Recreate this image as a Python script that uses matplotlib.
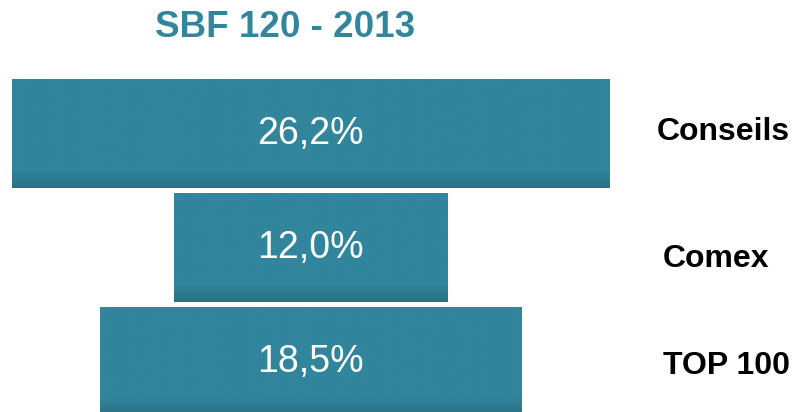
import numpy as np
import matplotlib.pyplot as plt
from matplotlib.colors import LinearSegmentedColormap

# data
categories = ['Conseils', 'Comex', 'TOP 100']
values = [26.2, 12.0, 18.5]
value_labels = ['26,2%', '12,0%', '18,5%']
title = 'SBF 120 - 2013'

bar_color = '#31859C'
dark_color = '#2B7184'

plt.rcParams['font.family'] = ['Liberation Sans', 'DejaVu Sans']

fig = plt.figure(figsize=(7.93, 4.12), dpi=100)
ax = fig.add_axes([0, 0, 1, 1])

# pixel-ish layout: bars centred at x=310px, 22.8px per %, 113px pitch
px_per_unit = 22.8
cx = 310.5
ax.set_xlim(-cx / px_per_unit, (793 - cx) / px_per_unit)
pitch = 114
cy = 133.5
ax.set_ylim((412 - cy) / pitch, -cy / pitch)
ax.axis('off')

ypos = np.arange(len(values))
bars = ax.barh(ypos, values, left=[-v / 2 for v in values], height=0.96,
               color=bar_color, edgecolor='none')

# darker gradient along the bottom of each bar
cmap = LinearSegmentedColormap.from_list('shade', [bar_color, bar_color, dark_color])
grad = np.linspace(0, 1, 200).reshape(-1, 1)
grad = np.clip((grad - 0.72) / 0.28, 0, 1) ** 0.8
for b in bars:
    x0, y0 = b.get_x(), b.get_y()
    w, h = b.get_width(), b.get_height()
    im = ax.imshow(grad, cmap=cmap, aspect='auto', vmin=0, vmax=1,
                   extent=[x0, x0 + w, y0 + h, y0], zorder=2)
    im.set_clip_path(b)

for i, lab in enumerate(value_labels):
    ax.text(0, i + 0.005, lab, ha='center', va='center', color='white',
            fontsize=27, zorder=3)

label_x = [0.828, 0.836, 0.836]
label_dy = [-0.01, 0.1, 0.04]
for i, cat in enumerate(categories):
    ax.text(label_x[i], i + label_dy[i], cat, transform=ax.get_yaxis_transform(),
            ha='left', va='center', fontsize=23, fontweight='bold', color='black')

fig.text(0.359, 0.933, title, ha='center', va='center', fontsize=26.5,
         fontweight='bold', color=bar_color)

fig.savefig('out.png', dpi=100)
